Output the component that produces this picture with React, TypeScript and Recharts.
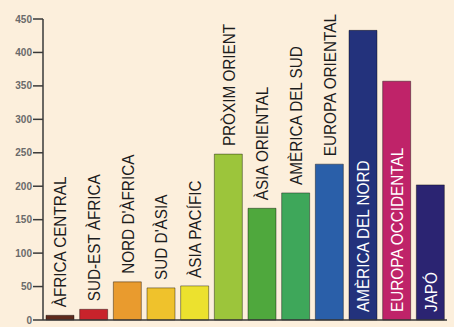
import { BarChart, Bar, XAxis, YAxis, Cell, LabelList } from "recharts";

const regions = [
  "ÀFRICA CENTRAL",
  "SUD-EST ÀFRICA",
  "NORD D'ÀFRICA",
  "SUD D'ÀSIA",
  "ÀSIA PACÍFIC",
  "PRÒXIM ORIENT",
  "ÀSIA ORIENTAL",
  "AMÈRICA DEL SUD",
  "EUROPA ORIENTAL",
  "AMÈRICA DEL NORD",
  "EUROPA OCCIDENTAL",
  "JAPÓ",
];
const values = [7, 16, 57, 48, 51, 248, 167, 190, 233, 433, 357, 202];
const barColors = [
  "#5e2a1c", "#c8232b", "#e99b2e", "#efc22c", "#ece12e", "#9cc53b",
  "#4fa83d", "#3ea75a", "#2a5fa9", "#23327c", "#bf2369", "#2b2472",
];
const yTicks = [0, 50, 100, 150, 200, 250, 300, 350, 400, 450];
// these labels sit inside their bar, in white
const insideLabels = ["AMÈRICA DEL NORD", "EUROPA OCCIDENTAL", "JAPÓ"];

const data = regions.map((name, i) => ({ name, value: values[i] }));

const FONT = '"Liberation Sans", Arial, sans-serif';

// vertical label, Arial squeezed a little along its length
const RegionLabel = (props: any) => {
  const { x, y, width, height, value } = props;
  const cx = x + width / 2;
  const inside = insideLabels.includes(value);
  const baseY = inside ? y + height - 8 : y - 8;
  return (
    <g transform={`translate(${cx},${baseY}) rotate(-90) scale(0.9,1)`}>
      <text
        x={0}
        y={0}
        textAnchor="start"
        dominantBaseline="central"
        fill={inside ? "#ffffff" : "#1c1c1c"}
        fontSize={17}
        fontFamily={FONT}
      >
        {value}
      </text>
    </g>
  );
};

export default function App() {
  return (
    <div style={{ position: "absolute", left: 0, top: 0, width: 454, height: 327, background: "#fcefdc" }}>
      <BarChart
        width={454}
        height={327}
        data={data}
        margin={{ top: 19, right: 7, bottom: 6, left: 0 }}
        barSize={28}
      >
        <XAxis
          dataKey="name"
          tick={false}
          tickLine={false}
          height={1}
          axisLine={{ stroke: "#3a3a3a", strokeWidth: 1.5 }}
        />
        <YAxis
          width={43}
          domain={[0, 450]}
          ticks={yTicks}
          interval={0}
          tickSize={10}
          tickMargin={1}
          axisLine={{ stroke: "#3a3a3a", strokeWidth: 1.5 }}
          tickLine={{ stroke: "#3a3a3a", strokeWidth: 1.5 }}
          tick={{ fill: "#6a6a6a", fontSize: 10, fontWeight: 700, fontFamily: FONT }}
        />
        <Bar dataKey="value" isAnimationActive={false} stroke="rgba(0,0,0,0.4)" strokeWidth={1}>
          {data.map((d, i) => (
            <Cell key={d.name} fill={barColors[i]} />
          ))}
          <LabelList dataKey="name" content={<RegionLabel />} />
        </Bar>
      </BarChart>
    </div>
  );
}
